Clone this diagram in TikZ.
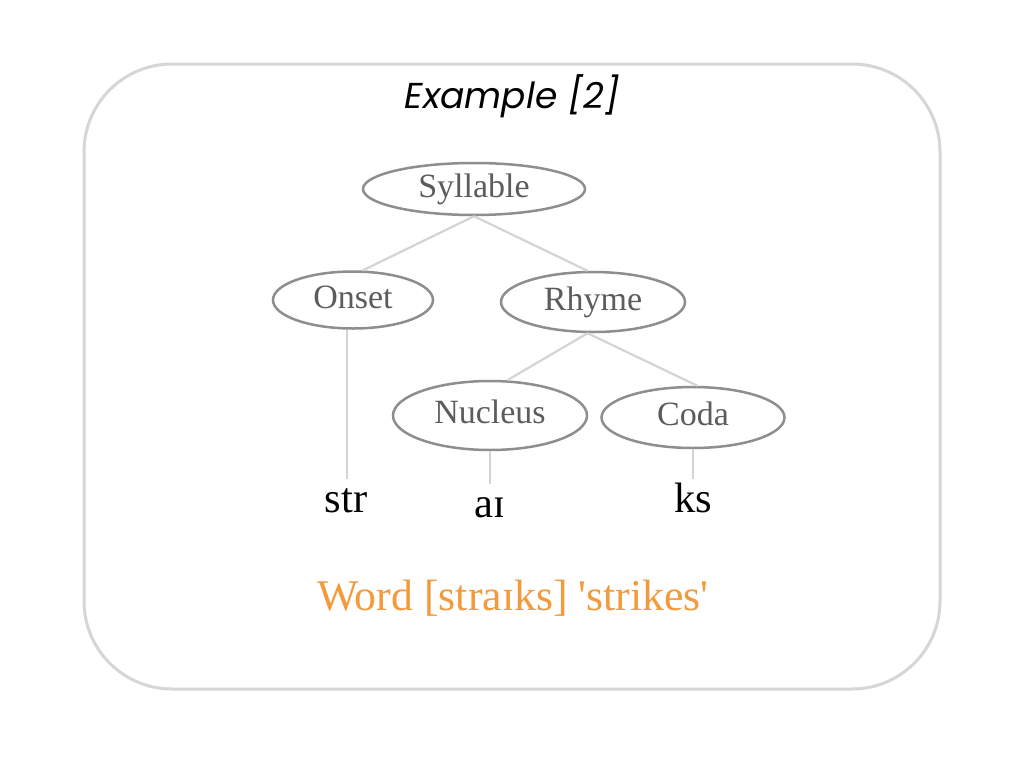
\documentclass[tikz,border=0pt]{standalone}
\usepackage{fontspec}
\setmainfont{Liberation Serif}
\newfontfamily\titlefont{Poppins}
\usetikzlibrary{shapes.geometric}
\definecolor{framegray}{HTML}{D6D6D6}
\definecolor{edgegray}{HTML}{D4D4D4}
\definecolor{ellgray}{HTML}{8E8E8E}
\definecolor{labgray}{HTML}{5C5C5C}
\definecolor{wordorange}{HTML}{F39A3B}
\begin{document}
\begin{tikzpicture}[x=1pt,y=-1pt,
  unit/.style={ellipse, draw=ellgray, line width=2.5pt, text=labgray, inner sep=0pt,
    font=\fontsize{34}{40}\selectfont, text height=24pt, text depth=8pt},
  leaf/.style={anchor=base, inner sep=2pt, text height=31pt, font=\fontsize{42.5}{48}\selectfont, text=black},
  edge/.style={draw=edgegray, line width=2.2pt},
  frame/.style={draw=framegray, line width=3pt, rounded corners=88pt}]
\useasboundingbox (0,0) rectangle (1024,768);
\fill[white] (0,0) rectangle (1024,768);
\draw[frame] (84,64) rectangle (940,689);
\node[anchor=base, inner sep=0pt, font=\titlefont\itshape\fontsize{36}{44}\selectfont] (ttl) at (512,108) {Example [2]};
\node[unit, minimum width=222pt, minimum height=52pt] (syl) at (474,189) {Syllable};
\node[unit, minimum width=160pt, minimum height=57pt] (ons) at (353,300) {Onset};
\node[unit, minimum width=184pt, minimum height=60pt] (rhy) at (593,302) {Rhyme};
\node[unit, minimum width=194pt, minimum height=69pt] (nuc) at (490,415.5) {Nucleus};
\node[unit, minimum width=183pt, minimum height=61pt] (cod) at (693,417.5) {Coda};
\node[leaf] (str) at (346,512) {str};
\node[leaf] (ai) at (490,517) {aɪ};
\node[leaf] (ks) at (693,512) {ks};
\node[anchor=base, inner sep=0pt, text=wordorange, font=\fontsize{43.8}{50}\selectfont] (word) at (513,610) {Word [straɪks] \textquotesingle strikes\textquotesingle};
\draw[edge] (syl.south) -- (ons.72);
\draw[edge] (syl.south) -- (rhy.100);
\draw[edge] (rhy.-100) -- (nuc.64);
\draw[edge] (rhy.-100) -- (cod.82);
\draw[edge] (ons.-102) -- (ons.-102 |- str.north);
\draw[edge] (nuc.south) -- (ai.north);
\draw[edge] (cod.south) -- (ks.north);
\end{tikzpicture}
\end{document}
